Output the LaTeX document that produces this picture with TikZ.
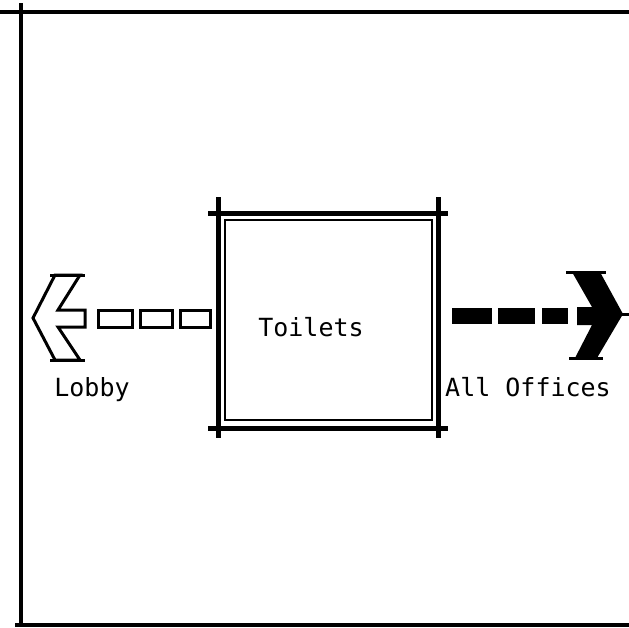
\documentclass[tikz,border=0pt]{standalone}
\usepackage{fontspec}
\setmainfont{DejaVu Sans Mono}
\begin{document}
\begin{tikzpicture}[x=1pt,y=-1pt]
  % Estilos
  \tikzset{
    wall/.style={line width=4pt},
    roomwall/.style={line width=5pt},
    innerwall/.style={line width=1.8pt},
    outline/.style={line width=3pt, line join=miter},
    hollowdash/.style={line width=3pt},
    fulldash/.style={fill=black},
    label/.style={font=\fontsize{25}{30}\selectfont, inner sep=0pt}
  }
  \useasboundingbox (0,0) rectangle (629,627);

  % Marco
  \draw[wall] (0,12) -- (629,12);
  \draw[wall] (21,3) -- (21,627);
  \draw[wall] (15,625) -- (629,625);

  % Sala central
  \draw[roomwall] (208,213) -- (448,213);
  \draw[roomwall] (208,428) -- (448,428);
  \draw[roomwall] (218,197) -- (218,438);
  \draw[roomwall] (438,197) -- (438,438);
  \draw[innerwall] (225,220) rectangle (432,420);
  \node[label] (toilets) at (311,327) {Toilets};

  % Flecha hueca hacia el vestibulo
  \draw[outline] (33,318) -- (55,275) -- (80,275) -- (58,310) -- (85,310)
    -- (85,327) -- (58,327) -- (80,360) -- (55,360) -- cycle;
  \draw[outline] (50,275) -- (85,275);
  \draw[outline] (50,360) -- (85,360);
  \draw[hollowdash] (98,310) rectangle (132,327);
  \draw[hollowdash] (140,310) rectangle (172,327);
  \draw[hollowdash] (180,310) rectangle (210,327);
  \node[label] (lobby) at (92,390) {Lobby};

  % Flecha llena hacia las oficinas
  \fill (577,307) -- (592,307) -- (572,272) -- (600,272) -- (623,314)
    -- (597,358) -- (575,358) -- (592,325) -- (577,325) -- cycle;
  \draw[outline] (566,272) -- (606,272);
  \draw[outline] (569,358) -- (603,358);
  \draw[outline] (618,314) -- (629,314);
  \fill[fulldash] (452,308) rectangle (492,324);
  \fill[fulldash] (498,308) rectangle (535,324);
  \fill[fulldash] (542,308) rectangle (568,324);
  \node[label] (offices) at (528,387) {All Offices};
\end{tikzpicture}
\end{document}
